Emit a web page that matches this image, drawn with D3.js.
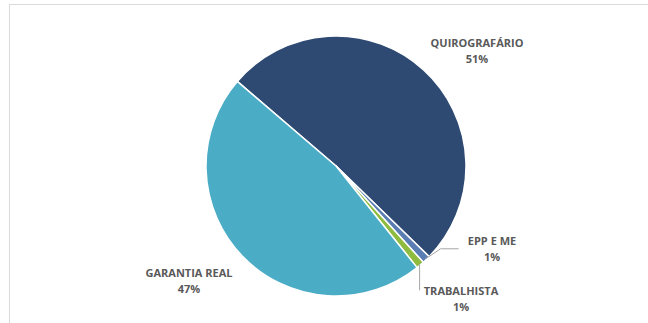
<!DOCTYPE html>
<html>
<head>
<meta charset="utf-8">
<script src="https://cdn.jsdelivr.net/npm/d3@7"></script>
<style>
  html, body { margin: 0; padding: 0; background: #fff; }
  svg { display: block; }
  .lbl { font-family: "Open Sans", sans-serif; font-weight: bold; font-size: 11px; fill: #595959; }
</style>
</head>
<body>
<svg id="chart" width="648" height="323"></svg>
<script>
// Credit classes and their share of the total (percent)
const categories = ["QUIROGRAFÁRIO", "EPP E ME", "TRABALHISTA", "GARANTIA REAL"];
const shares = [51, 1, 1, 47];
const colors = ["#2e4a72", "#5a7db3", "#8fbb3f", "#4bacc6"];

const width = 648, height = 323;
const cx = 336, cy = 166, radius = 130;
const startAngle = -49.4 * Math.PI / 180;

const svg = d3.select("#chart");

// chart frame
svg.append("rect")
  .attr("x", 9.5).attr("y", 4.5)
  .attr("width", width + 20).attr("height", height + 20)
  .attr("fill", "#fff").attr("stroke", "#d9d9d9").attr("stroke-width", 1);

const data = categories.map((c, i) => ({ name: c, value: shares[i], color: colors[i] }));

const pie = d3.pie().value(d => d.value).sort(null)
  .startAngle(startAngle).endAngle(startAngle + 2 * Math.PI);
const arcs = pie(data);
const arc = d3.arc().innerRadius(0).outerRadius(radius);

const g = svg.append("g").attr("transform", `translate(${cx},${cy})`);
g.selectAll("path.slice")
  .data(arcs)
  .join("path")
  .attr("class", "slice")
  .attr("d", arc)
  .attr("fill", d => d.data.color)
  .attr("stroke", "#fff")
  .attr("stroke-width", 1.5)
  .attr("stroke-linejoin", "round");

// label positions relative to the pie centre
const mid = d => (d.startAngle + d.endAngle) / 2;
const pt = (a, r) => [Math.sin(a) * r, -Math.cos(a) * r];

const labelSpec = [
  { dx: 141, dy: -119 },   // QUIROGRAFÁRIO
  { dx: 156, dy: 79 },     // EPP E ME
  { dx: 125, dy: 129 },    // TRABALHISTA
  { dx: -147, dy: 111 }    // GARANTIA REAL
];

arcs.forEach((d, i) => {
  const s = labelSpec[i];
  const t = g.append("text").attr("class", "lbl").attr("text-anchor", "middle")
    .attr("x", s.dx).attr("y", s.dy);
  t.append("tspan").attr("x", s.dx).attr("dy", 0).text(d.data.name);
  t.append("tspan").attr("x", s.dx).attr("dy", 16).text(d3.format(".0f")(d.data.value) + "%");
});

// leader lines for the two thin slices
const leader = d3.line();
const eppEdge = pt(mid(arcs[1]), radius - 1);
g.append("path")
  .attr("d", leader([eppEdge, [eppEdge[0] + 15, eppEdge[1] - 10], [eppEdge[0] + 33, eppEdge[1] - 10]]))
  .attr("fill", "none").attr("stroke", "#a6a6a6").attr("stroke-width", 1);

const trabEdge = pt(mid(arcs[2]), radius - 1);
g.append("path")
  .attr("d", leader([trabEdge, [trabEdge[0], trabEdge[1] + 26]]))
  .attr("fill", "none").attr("stroke", "#a6a6a6").attr("stroke-width", 1);
</script>
</body>
</html>
